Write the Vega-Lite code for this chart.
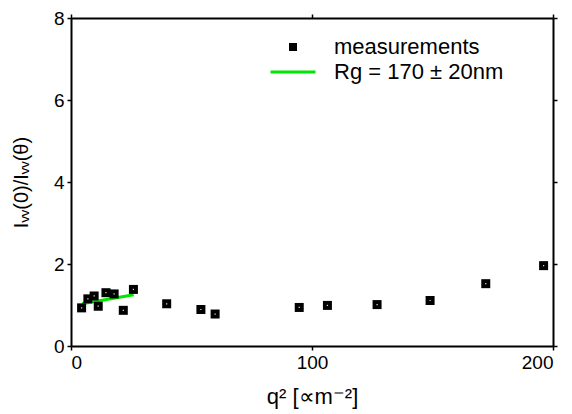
{
  "$schema": "https://vega.github.io/schema/vega-lite/v6.json",
  "width": 482,
  "height": 328,
  "autosize": {"type": "none"},
  "padding": {"left": 71, "top": 18, "right": 19, "bottom": 68},
  "background": "white",
  "config": {
    "font": "Liberation Sans",
    "view": {"stroke": null},
    "axis": {
      "grid": false,
      "domainColor": "black",
      "domainWidth": 2,
      "tickColor": "black",
      "tickWidth": 1.5,
      "tickSize": 4,
      "labelFont": "Liberation Sans",
      "labelFontSize": 19,
      "labelColor": "black",
      "titleFont": "Liberation Sans",
      "titleFontSize": 22,
      "titleFontWeight": "normal",
      "titleColor": "black"
    }
  },
  "datasets": {
    "meas": [
      {"q2": 4.4, "ratio": 0.93, "series": "measurements"},
      {"q2": 7.0, "ratio": 1.15, "series": "measurements"},
      {"q2": 9.6, "ratio": 1.22, "series": "measurements"},
      {"q2": 11.3, "ratio": 0.97, "series": "measurements"},
      {"q2": 14.5, "ratio": 1.3, "series": "measurements"},
      {"q2": 17.9, "ratio": 1.27, "series": "measurements"},
      {"q2": 21.7, "ratio": 0.87, "series": "measurements"},
      {"q2": 25.9, "ratio": 1.38, "series": "measurements"},
      {"q2": 39.7, "ratio": 1.03, "series": "measurements"},
      {"q2": 53.9, "ratio": 0.89, "series": "measurements"},
      {"q2": 59.8, "ratio": 0.78, "series": "measurements"},
      {"q2": 94.7, "ratio": 0.94, "series": "measurements"},
      {"q2": 106.4, "ratio": 0.99, "series": "measurements"},
      {"q2": 127.0, "ratio": 1.01, "series": "measurements"},
      {"q2": 149.0, "ratio": 1.11, "series": "measurements"},
      {"q2": 172.1, "ratio": 1.52, "series": "measurements"},
      {"q2": 196.1, "ratio": 1.96, "series": "measurements"}
    ],
    "fit": [
      {"q2": 4.6, "ratio": 1.03, "series": "Rg = 170  ± 20nm"},
      {"q2": 26.0, "ratio": 1.25, "series": "Rg = 170  ± 20nm"}
    ]
  },
  "layer": [
    {
      "data": {"name": "fit"},
      "mark": {"type": "line", "strokeWidth": 3},
      "encoding": {
        "x": {"field": "q2", "type": "quantitative", "scale": {"domain": [0, 200], "nice": false},
              "axis": {"values": [0, 100, 200], "title": "q² [∝m⁻²]", "labelPadding": 3, "titlePadding": 14}},
        "y": {"field": "ratio", "type": "quantitative", "scale": {"domain": [0, 8], "nice": false},
              "axis": {"values": [0, 2, 4, 6, 8], "title": "Iᵥᵥ(0)/Iᵥᵥ(θ)", "titleFontSize": 20, "labelPadding": 3, "titlePadding": 22}},
        "color": {"field": "series", "type": "nominal",
          "scale": {"domain": ["measurements", "Rg = 170  ± 20nm"], "range": ["black", "#00e600"]},
          "legend": {
            "title": null,
            "orient": "none",
            "legendX": 211,
            "legendY": 18,
            "labelFontSize": 22,
            "labelFont": "Liberation Sans",
            "labelColor": "black",
            "labelLimit": 400,
            "symbolSize": 2025,
            "labelOffset": 30,
            "rowPadding": 3,
            "encode": {
              "symbols": {
                "update": {
                  "shape": {"signal": "datum.value == 'measurements' ? 'square' : 'stroke'"},
                  "size": {"signal": "datum.value == 'measurements' ? 64 : 2025"},
                  "strokeWidth": {"signal": "datum.value == 'measurements' ? 0 : 3"},
                  "fill": {"signal": "datum.value == 'measurements' ? 'black' : 'transparent'"},
                  "stroke": {"signal": "datum.value == 'measurements' ? 'black' : '#00e600'"},
                  "opacity": {"value": 1}
                }
              }
            }
          }}
      }
    },
    {
      "data": {"name": "meas"},
      "mark": {"type": "square", "size": 81, "opacity": 1},
      "encoding": {
        "x": {"field": "q2", "type": "quantitative", "axis": {"orient": "top", "values": [0, 100, 200], "labels": false, "title": null}},
        "y": {"field": "ratio", "type": "quantitative", "axis": {"orient": "right", "values": [0, 2, 4, 6, 8], "labels": false, "title": null}},
        "color": {"field": "series", "type": "nominal", "legend": null}
      }
    },
    {
      "data": {"name": "meas"},
      "mark": {"type": "square", "size": 1.5, "color": "#dddddd", "opacity": 1},
      "encoding": {
        "x": {"field": "q2", "type": "quantitative", "axis": null},
        "y": {"field": "ratio", "type": "quantitative", "axis": null}
      }
    }
  ],
  "resolve": {"axis": {"x": "independent", "y": "independent"}}
}
